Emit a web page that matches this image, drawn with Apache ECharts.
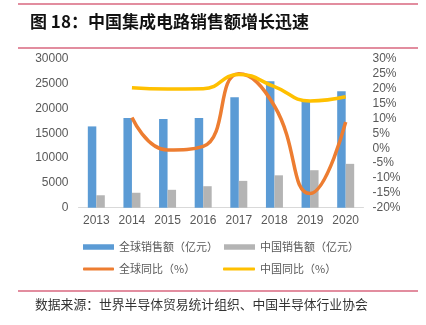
<!DOCTYPE html>
<html><head><meta charset="utf-8">
<script src="https://cdn.jsdelivr.net/npm/echarts@6/dist/echarts.min.js"></script>
<style>html,body{margin:0;padding:0;background:#fff}#c{width:426px;height:325px}</style>
</head><body><div id="c"></div>
<script>
const categories = ['2013','2014','2015','2016','2017','2018','2019','2020'];
const globalSales = [16400, 18100, 17900, 18100, 22300, 25500, 21700, 23500];
const chinaSales = [2508, 3015, 3610, 4336, 5411, 6532, 7562, 8848];
const globalYoY = [null, 10.3, -0.6, 0.6, 25.0, 14.2, -15.2, 8.8];
const chinaYoY = [null, 20.3, 19.9, 20.0, 24.8, 20.7, 15.9, 17.3];
const leftTicks = {min: 0, max: 30000, interval: 5000};
const rightTicks = {min: -20, max: 30, interval: 5};
const names = ['全球销售额（亿元）', '中国销售额（亿元）', '全球同比（%）', '中国同比（%）'];
const titleText = '图 18：中国集成电路销售额增长迅速';
const sourceText = '数据来源：世界半导体贸易统计组织、中国半导体行业协会';

const chart = echarts.init(document.getElementById('c'), null, {renderer: 'canvas'});
const font = 'Noto Sans CJK SC, sans-serif';
const lab = {color: '#595959', fontSize: 12, fontFamily: 'Liberation Sans, Arial, sans-serif'};
const legTxt = {color: '#595959', fontSize: 11, fontFamily: font};
function leg(name, left, top, w, h, icon) {
  return {data: [name], left: left, top: top, itemWidth: w, itemHeight: h, icon: icon,
    itemGap: 0, textStyle: legTxt, padding: 0, selectedMode: false};
}
chart.setOption({
  animation: false,
  grid: {left: 78.5, right: 62.5, top: 59, bottom: 117.3},
  graphic: [
    {type: 'line', shape: {x1: 18, y1: 4, x2: 418, y2: 4}, style: {stroke: '#d9677f', lineWidth: 1.5}},
    {type: 'line', shape: {x1: 18, y1: 48, x2: 418, y2: 48}, style: {stroke: '#d9677f', lineWidth: 1.5}},
    {type: 'line', shape: {x1: 18, y1: 291, x2: 418, y2: 291}, style: {stroke: '#d9677f', lineWidth: 1.5}},
    {type: 'text', left: 30, top: 13, style: {text: titleText, fill: '#111', fontSize: 17, fontWeight: 'bold', fontFamily: font}},
    {type: 'text', left: 35, top: 298, style: {text: sourceText, fill: '#333', fontSize: 12.8, fontFamily: font}}
  ],
  legend: [
    leg(names[0], 83, 241.5, 31, 5.5, 'rect'),
    leg(names[1], 224, 241.5, 31, 5.5, 'rect'),
    leg(names[2], 83, 263.5, 31, 3, 'roundRect'),
    leg(names[3], 223, 263.5, 32, 3, 'roundRect')
  ],
  xAxis: {type: 'category', data: categories,
    axisLine: {lineStyle: {color: '#d9d9d9', width: 1}}, axisTick: {show: false},
    axisLabel: Object.assign({margin: 7}, lab)},
  yAxis: [
    Object.assign({type: 'value', axisLine: {show: false}, axisTick: {show: false}, splitLine: {show: false},
      axisLabel: Object.assign({margin: 10, formatter: function (v) { return String(v); }}, lab)}, leftTicks),
    Object.assign({type: 'value', position: 'right', axisLine: {show: false}, axisTick: {show: false}, splitLine: {show: false},
      axisLabel: Object.assign({margin: 9, formatter: '{value}%'}, lab)}, rightTicks)
  ],
  series: [
    {name: names[0], type: 'bar', data: globalSales, barWidth: 8.5, barGap: '0%', itemStyle: {color: '#5b9bd5'}},
    {name: names[1], type: 'bar', data: chinaSales, barWidth: 8.5, barGap: '0%', itemStyle: {color: '#b4b4b4'}},
    {name: names[2], type: 'line', yAxisIndex: 1, data: globalYoY, smooth: 0.5, showSymbol: false, symbol: 'none',
      lineStyle: {color: '#ed7d31', width: 3.5}, itemStyle: {color: '#ed7d31'}},
    {name: names[3], type: 'line', yAxisIndex: 1, data: chinaYoY, smooth: 0.5, showSymbol: false, symbol: 'none',
      lineStyle: {color: '#ffc000', width: 3.5}, itemStyle: {color: '#ffc000'}}
  ]
});
</script></body></html>
